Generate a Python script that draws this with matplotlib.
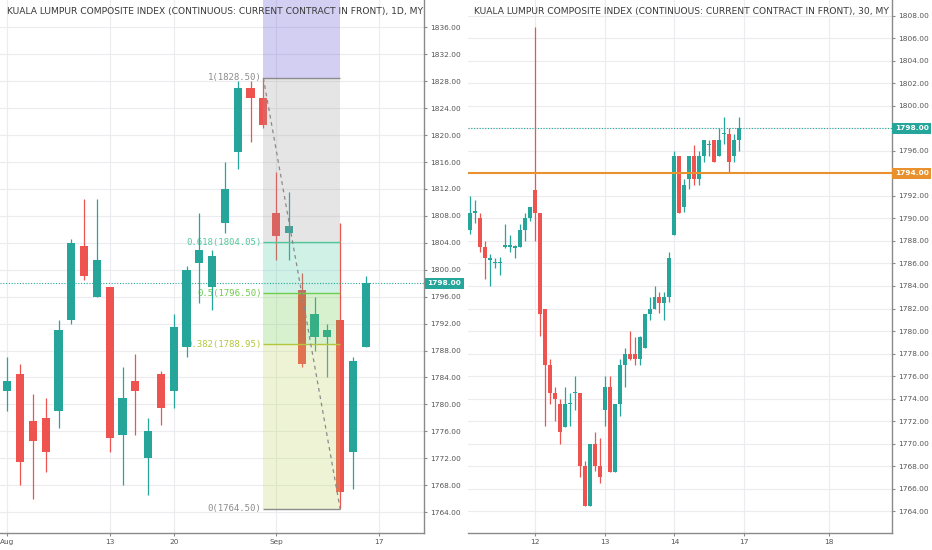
import numpy as np
import matplotlib
matplotlib.use('Agg')
import matplotlib.pyplot as plt
from matplotlib import transforms

# daily bars (left panel), Aug 1 .. Sep 14
d_open = [1782, 1784.5, 1777.5, 1778, 1779, 1792.5, 1803.5, 1796, 1797.5, 1775.5,
          1783.5, 1772, 1784.5, 1782, 1788.5, 1801, 1797.5, 1807, 1817.5, 1827,
          1825.5, 1808.5, 1805.5, 1797, 1790, 1790, 1792.5, 1773, 1788.5]
d_high = [1787, 1786, 1781.5, 1781, 1792.5, 1804.5, 1810.5, 1810.5, 1797.5, 1785.5,
          1787.5, 1778, 1785, 1793.5, 1800.5, 1808.5, 1803, 1816, 1828, 1828,
          1828.5, 1814.5, 1811.5, 1799.5, 1796, 1792, 1807, 1787, 1799]
d_low = [1779, 1768, 1766, 1770, 1776.5, 1792, 1798.5, 1796, 1773, 1768,
         1775.5, 1766.5, 1777, 1779.5, 1787, 1795, 1794, 1805.5, 1815, 1819,
         1821, 1801.5, 1801.5, 1785.5, 1788, 1784, 1764.5, 1767.5, 1788.5]
d_close = [1783.5, 1771.5, 1774.5, 1773, 1791, 1804, 1799, 1801.5, 1775, 1781,
           1782, 1776, 1779.5, 1791.5, 1800, 1803, 1802, 1812, 1827, 1825.5,
           1821.5, 1805, 1806.5, 1786, 1793.5, 1791, 1767, 1786.5, 1798]
d_tick_pos = [0, 8, 13, 21, 29]
d_tick_lab = ['Aug', '13', '20', 'Sep', '17']

# 30 minute bars (right panel), bar 0 = first bar of the 12th
m_open = [1789, 1790.5, 1790, 1787.5, 1786.3, 1786, 1786, 1787.5, 1787.5, 1787.4,
          1787.5, 1789, 1790,
          1792.5, 1790.5, 1782, 1777, 1774.5, 1773.5, 1771.5, 1773.5, 1774.5, 1774.5,
          1768, 1764.5, 1770, 1768,
          1773, 1775, 1767.5, 1773.5, 1777, 1778, 1778, 1777.5, 1778.5, 1781.5,
          1782, 1783, 1782.5, 1783,
          1788.5, 1795.5, 1791, 1793.5, 1795.5, 1793.5, 1795.5, 1796.5, 1797, 1795.5,
          1797.5, 1797.5, 1795.5, 1797]
m_high = [1792, 1791.6, 1790.5, 1788, 1786.8, 1786.5, 1786.6, 1789.5, 1788.5, 1787.6,
          1789.5, 1790.5, 1791,
          1807, 1790.5, 1782, 1777.5, 1775, 1774, 1775, 1774.5, 1776, 1774.5,
          1768.5, 1770, 1771, 1770.5,
          1776, 1776, 1773.5, 1777.5, 1778.5, 1780, 1779.5, 1779.6, 1781.5, 1783,
          1784, 1783.5, 1783.5, 1787,
          1796, 1795.5, 1793.5, 1795.5, 1796.5, 1796, 1797, 1797, 1797, 1798,
          1799, 1798, 1797.5, 1799]
m_low = [1788.6, 1789.6, 1787, 1784.6, 1784, 1785.6, 1785, 1787.4, 1787, 1786.5,
         1787.5, 1788, 1789.8,
         1788, 1779.6, 1771.6, 1773.5, 1772, 1770, 1771.5, 1771.6, 1773, 1767,
         1764.5, 1764.5, 1767.6, 1766.5,
         1771.6, 1767.5, 1767.5, 1772.5, 1775, 1777.4, 1777, 1777, 1778.5, 1781,
         1782, 1781.6, 1781, 1782.6,
         1788.5, 1790.5, 1790.6, 1792.6, 1793, 1793, 1795, 1795.5, 1795, 1795.5,
         1796.6, 1794, 1795, 1796]
m_close = [1790.5, 1790.7, 1787.5, 1786.5, 1786.5, 1786.1, 1786.1, 1787.6, 1787.6, 1787.5,
           1789, 1790, 1791,
           1790.5, 1781.5, 1777, 1774.5, 1774, 1771, 1773.5, 1773.6, 1774.6, 1768,
           1764.5, 1770, 1768, 1767,
           1775, 1767.5, 1773.5, 1777, 1778, 1777.5, 1777.5, 1779.5, 1781.5, 1782,
           1783, 1782.5, 1783, 1786.5,
           1795.5, 1790.5, 1793, 1795.5, 1793.5, 1795.5, 1797, 1796.6, 1795, 1797,
           1797.6, 1795, 1797, 1798]
m_first = -13
m_tick_pos = [0, 14, 28, 42, 59]
m_tick_lab = ['12', '13', '14', '17', '18']

# fibonacci retracement drawn on the daily chart
fib_start, fib_end = 20, 26
fib_ratio = [1, 0.618, 0.5, 0.382, 0]
fib_price = [1828.50, 1804.05, 1796.50, 1788.95, 1764.50]
fib_color = ['#8c8c8c', '#52c99b', '#6fcd4c', '#b4c63e', '#8c8c8c']
fib_fill = ['#4f43cf', '#999999', '#43cb9f', '#63cb3f', '#bbd357']

last_price = 1798.00
alert_price = 1794.00

UP = '#26a69a'
DOWN = '#ef5350'
GRID = '#ececf0'
AXC = '#8a8a8a'
TXT = '#555555'
title_txt = 'KUALA LUMPUR COMPOSITE INDEX (CONTINUOUS: CURRENT CONTRACT IN FRONT), {}, MY'


def candles(ax, x, o, h, l, c, width):
    o, h, l, c = map(np.array, (o, h, l, c))
    col = np.where(c >= o, UP, DOWN)
    ax.vlines(x, l, h, colors=col, lw=0.9, zorder=2)
    body = np.maximum(np.abs(c - o), 0.12)
    ax.bar(x, body, width=width, bottom=np.minimum(o, c), color=col, lw=0, zorder=2)


def style(ax, ylo, yhi, ystep, ticks, labels, name, hide=()):
    for s in ['left', 'top']:
        ax.spines[s].set_visible(False)
    for s in ['right', 'bottom']:
        ax.spines[s].set_color(AXC)
        ax.spines[s].set_linewidth(1.0)
    ax.yaxis.tick_right()
    yt = np.arange(ylo, yhi + 0.1, ystep)
    ax.set_yticks(yt)
    # tags cover these levels, so leave their tick text empty
    ax.set_yticklabels(['' if v in hide else '%.2f' % v for v in yt])
    ax.set_xticks(ticks)
    ax.set_xticklabels(labels)
    ax.tick_params(colors=AXC, labelcolor=TXT, labelsize=5.3, length=2, width=0.8)
    ax.tick_params(axis='y', pad=2.5)
    ax.tick_params(axis='x', pad=2)
    ax.grid(True, color=GRID, lw=0.8, zorder=0)
    ax.set_axisbelow(True)
    t = ax.text(0.016, 0.979, title_txt.format(name), transform=ax.transAxes,
                fontsize=6.6, color='#3a3a3a', va='center', ha='left', zorder=6)
    t.set_clip_on(True)
    t.set_clip_box(ax.bbox)


def price_tag(ax, y, color):
    tr = transforms.blended_transform_factory(ax.transAxes, ax.transData)
    ax.text(1.008, y, '%.2f' % y, transform=tr, fontsize=5.3, color='white',
            fontweight='bold', ha='left', va='center', clip_on=False, zorder=10,
            bbox=dict(boxstyle='square,pad=0.35', fc=color, ec='none'))


fig = plt.figure(figsize=(9.32, 5.5), dpi=100)
ax1 = fig.add_axes([0.0, 0.0309, 0.4549, 0.9691])
ax2 = fig.add_axes([0.5018, 0.0309, 0.4549, 0.9691])

# left: daily
dx = np.arange(len(d_open))
candles(ax1, dx, d_open, d_high, d_low, d_close, 0.65)
ax1.set_xlim(-0.57, 32.55)
ax1.set_ylim(1760.9, 1840.06)
style(ax1, 1764, 1836, 4, d_tick_pos, d_tick_lab, '1D')

edges = [1845] + fib_price
for k in range(len(fib_price)):
    ax1.fill_between([fib_start, fib_end], edges[k + 1], edges[k],
                     color=fib_fill[k], alpha=0.25, lw=0, zorder=3)
for r, p, col in zip(fib_ratio, fib_price, fib_color):
    ax1.hlines(p, fib_start, fib_end, color=col, lw=1.0, zorder=4)
    ax1.text(fib_start - 0.15, p, '%g(%.2f)' % (r, p), color=col, fontsize=6.5,
             family='DejaVu Sans Mono', ha='right', va='center', zorder=1.5)
ax1.plot([fib_start, fib_end], [fib_price[0], fib_price[-1]], color='#8a8a8a',
         lw=0.9, ls=(0, (3, 3)), zorder=5)
ax1.axhline(last_price, color=UP, lw=0.8, ls=(0, (1, 1.5)), zorder=5)
price_tag(ax1, last_price, UP)

# right: 30 minutes
mx = np.arange(m_first, m_first + len(m_open))
candles(ax2, mx, m_open, m_high, m_low, m_close, 0.8)
ax2.set_xlim(-13.5, 71.6)
ax2.set_ylim(1762.07, 1809.39)
style(ax2, 1764, 1808, 2, m_tick_pos, m_tick_lab, '30', hide=(last_price, alert_price))
ax2.axhline(last_price, color=UP, lw=0.8, ls=(0, (1, 1.5)), zorder=5)
ax2.axhline(alert_price, color='#e8912d', lw=1.5, zorder=5)
price_tag(ax2, last_price, UP)
price_tag(ax2, alert_price, '#e8912d')

fig.savefig('out.png', dpi=100)
